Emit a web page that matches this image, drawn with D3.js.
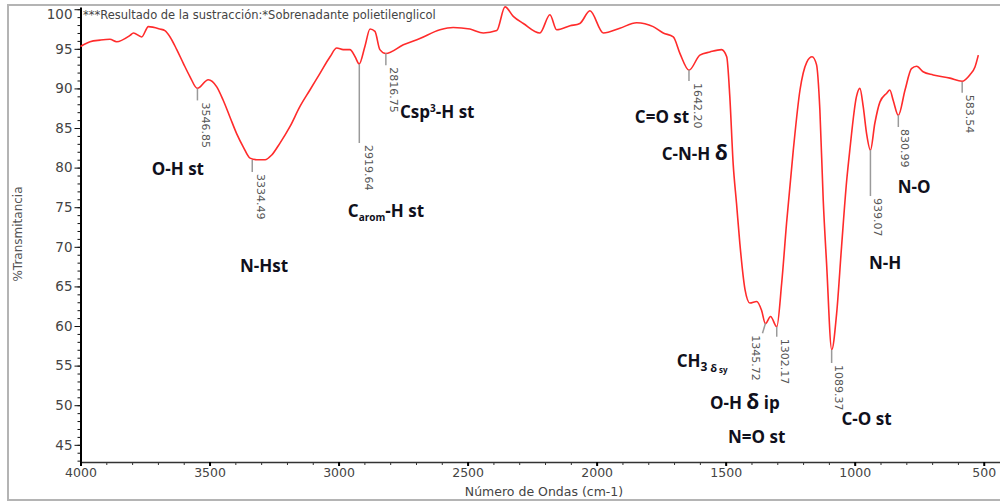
<!DOCTYPE html>
<html>
<head>
<meta charset="utf-8">
<script src="https://cdn.jsdelivr.net/npm/d3@7"></script>
<style>
  body { margin: 0; background: #fff; }
  svg { display: block; }
</style>
</head>
<body>
<div id="vis"></div>
<script>
// spectrum (wavenumber in cm-1, % transmittance)
var wavenumbers = [4000,3963,3924,3886,3860,3808,3795,3763,3737,3692,
  3673,3653,3627,3602,3576,3547,3505,3472,3447,3421,
  3395,3369,3343,3317,3285,3259,3227,3188,3150,3111,
  3072,3033,3007,2982,2956,2936,2920,2898,2878,2859,
  2840,2817,2749,2685,2607,2556,2491,2439,2387,2355,
  2323,2284,2220,2181,2155,2103,2065,2026,1974,1910,
  1845,1781,1742,1703,1677,1642,1600,1561,1516,1496,
  1484,1471,1458,1445,1425,1406,1380,1361,1346,1326,
  1302,1283,1264,1238,1212,1186,1165,1148,1135,1122,
  1109,1089,1070,1051,1031,1019,993,980,967,954,
  939,922,902,876,864,851,831,805,780,760,
  735,696,631,584,554,534,521];
var transmittance = [95.3,95.9,96.1,96.2,95.9,96.7,97.0,96.5,97.8,97.5,
  97.3,96.5,94.9,93.2,91.5,90.0,91.1,90.2,88.5,86.4,
  84.3,82.6,81.2,81.0,81.0,81.6,83.1,85.2,87.7,89.8,
  91.9,94.0,95.1,94.9,94.9,94.0,93.1,95.3,97.5,97.2,
  94.9,94.4,95.5,96.3,97.4,97.7,97.5,97.0,97.3,100.3,
  99.1,98.2,97.0,99.3,97.4,97.9,98.2,99.8,97.0,97.6,
  98.3,97.8,97.0,96.5,94.4,92.3,94.2,94.6,94.9,94.0,
  89.0,80.5,75.5,70.4,64.6,62.9,63.1,62.0,60.3,61.2,
  59.9,65.4,73.0,82.2,89.8,93.3,94.0,93.0,87.3,75.9,
  67.9,57.0,61.6,70.0,78.4,82.2,89.0,90.0,87.7,84.3,
  82.2,85.6,88.3,89.4,89.8,88.5,86.6,89.8,92.5,92.8,
  92.1,91.7,91.3,90.9,91.7,92.7,94.2];

// peaks picked by the software
var peakWn = [3546.85, 3334.49, 2919.64, 2816.75, 1642.20, 1345.72, 1302.17, 1089.37, 939.07, 830.99, 583.54];
var peakT = [90.0, 80.96, 93.08, 94.43, 92.32, 60.34, 59.91, 56.97, 82.22, 86.64, 90.85];

var xTicks = [4000, 3500, 3000, 2500, 2000, 1500, 1000, 500];
var yTicks = [45, 50, 55, 60, 65, 70, 75, 80, 85, 90, 95, 100];

var title = '***Resultado de la sustracción:*Sobrenadante polietilenglicol';
var xTitle = 'Número de Ondas (cm-1)';
var yTitle = '%Transmitancia';

// band assignments, anchored in data units (left edge, middle)
var bandLabels = [
  { wn: 3724, t: 79.07, parts: [['O-H st']] },
  { wn: 3382, t: 66.86, parts: [['N-Hst']] },
  { wn: 2964, t: 73.8, parts: [['C'], ['arom', 'sub'], ['-H st']] },
  { wn: 2762, t: 86.22, parts: [['Csp'], ['3', 'sup'], ['-H st']] },
  { wn: 1852, t: 85.6, parts: [['C=O st']] },
  { wn: 1748, t: 80.96, parts: [['C-N-H '], ['δ', 'big']] },
  { wn: 1690, t: 54.86, parts: [['CH'], ['3', 'sub3'], [' δ', 'tiny'], [' sy', 'tinier']] },
  { wn: 1561, t: 49.48, parts: [['O-H '], ['δ', 'big'], [' ip']] },
  { wn: 1491, t: 45.2, parts: [['N=O st']] },
  { wn: 1051, t: 47.5, parts: [['C-O st']] },
  { wn: 945, t: 67.16, parts: [['N-H']] },
  { wn: 833, t: 76.83, parts: [['N-O']] }
];

// layout of the peak markers (leader length and text offset, px)
var peakLen = [12, 12, 79, 12, 11, 10, 10, 13, 46, 12, 11];
var peakDx = [8, 9, 10, 8, 9, -10, 8, 7, 7, 7, 8];

var width = 1000, height = 502;
var axisFont = 'DejaVu Sans, Verdana, sans-serif';
var bandFont = 'Open Sans, Lato, sans-serif';

var partStyle = {
  '': { size: 17, shift: 0 },
  sub: { size: 10, shift: 4 },
  sup: { size: 10, shift: -6 },
  big: { size: 21, shift: 0 },
  sub3: { size: 12, shift: 4 },
  tiny: { size: 11, shift: 5 },
  tinier: { size: 8, shift: 6 }
};

var x = d3.scaleLinear().domain([4000, 437]).range([80.5, 1000]);
var y = d3.scaleLinear().domain([42.83, 100.28]).range([462, 7]);

var svg = d3.select('#vis').append('svg')
  .attr('width', width)
  .attr('height', height);

// outer frame
svg.append('rect')
  .attr('x', 8).attr('y', 5)
  .attr('width', 1000).attr('height', 495)
  .attr('fill', '#fff')
  .attr('stroke', '#b4b4b4')
  .attr('stroke-width', 2);

// title inside the plot
svg.append('text')
  .attr('x', 83).attr('y', 19)
  .attr('font-family', axisFont)
  .attr('font-size', 11.5)
  .attr('fill', '#444')
  .text(title);

// minor ticks first, then the main axes over them
svg.append('g')
  .attr('transform', 'translate(' + x.range()[0] + ',0)')
  .call(d3.axisLeft(y).tickValues(d3.range(43, 101)).tickSize(3).tickFormat(''))
  .call(function (g) { g.select('.domain').remove(); })
  .selectAll('line').attr('stroke', '#111');

var yAxis = svg.append('g')
  .attr('transform', 'translate(' + x.range()[0] + ',0)')
  .call(d3.axisLeft(y).tickValues(yTicks).tickSize(6).tickSizeOuter(0).tickPadding(2));
yAxis.select('.domain').attr('stroke', '#000').attr('stroke-width', 2);
yAxis.selectAll('.tick line').attr('stroke', '#111');
yAxis.selectAll('.tick text')
  .attr('font-family', axisFont)
  .attr('font-size', 13.5)
  .attr('fill', '#444')
  .attr('dy', function (d) { return d == 100 ? '0.72em' : '0.32em'; });

svg.append('g')
  .attr('transform', 'translate(0,' + y.range()[0] + ')')
  .call(d3.axisBottom(x).tickValues(d3.range(600, 4000, 100)).tickSize(3).tickFormat(''))
  .call(function (g) { g.select('.domain').remove(); })
  .selectAll('line').attr('stroke', '#333');

var xAxis = svg.append('g')
  .attr('transform', 'translate(0,' + y.range()[0] + ')')
  .call(d3.axisBottom(x).tickValues(xTicks).tickSize(4).tickSizeOuter(0).tickPadding(2)
    .tickFormat(d3.format('d')));
xAxis.select('.domain').attr('stroke', '#333').attr('stroke-width', 1.5);
xAxis.selectAll('.tick line').attr('stroke', '#000').attr('stroke-width', 2);
xAxis.selectAll('.tick text')
  .attr('font-family', axisFont)
  .attr('font-size', 12.5)
  .attr('fill', '#444');

// axis titles
svg.append('text')
  .attr('transform', 'translate(22,234) rotate(-90)')
  .attr('text-anchor', 'middle')
  .attr('font-family', axisFont)
  .attr('font-size', 12)
  .attr('fill', '#555')
  .text(yTitle);

svg.append('text')
  .attr('x', 544).attr('y', 496)
  .attr('text-anchor', 'middle')
  .attr('font-family', axisFont)
  .attr('font-size', 12.5)
  .attr('fill', '#444')
  .text(xTitle);

// the spectrum
var spectrum = wavenumbers.map(function (w, i) { return { wn: w, t: transmittance[i] }; });

var line = d3.line()
  .x(function (d) { return x(d.wn); })
  .y(function (d) { return y(d.t); })
  .curve(d3.curveMonotoneX);

svg.append('path')
  .datum(spectrum)
  .attr('fill', 'none')
  .attr('stroke', '#ff2b2b')
  .attr('stroke-width', 1.6)
  .attr('stroke-linejoin', 'round')
  .attr('d', line);

// peak markers with rotated wavenumbers
var fmt = d3.format('.2f');
var peaks = svg.append('g');
peakWn.forEach(function (w, i) {
  var px = x(w), py = y(peakT[i]);
  var slant = peakDx[i] < 0 ? -3 : 0;
  peaks.append('line')
    .attr('x1', px).attr('y1', py)
    .attr('x2', px + slant).attr('y2', py + peakLen[i])
    .attr('stroke', '#9a9a9a')
    .attr('stroke-width', 1.5);
  peaks.append('text')
    .attr('transform', 'translate(' + (px + peakDx[i]) + ',' + (py + peakLen[i] + 2) + ') rotate(90)')
    .attr('dy', '0.35em')
    .attr('font-family', axisFont)
    .attr('font-size', 11)
    .attr('fill', '#555')
    .text(fmt(w));
});

// band assignments
var bands = svg.append('g');
bandLabels.forEach(function (b) {
  var txt = bands.append('text')
    .attr('x', x(b.wn))
    .attr('y', y(b.t))
    .attr('dy', '0.35em')
    .attr('font-family', bandFont)
    .attr('font-weight', 'bold')
    .attr('font-size', 17)
    .attr('fill', '#10101c');
  var shift = 0;
  b.parts.forEach(function (p) {
    var st = partStyle[p[1] || ''];
    txt.append('tspan')
      .attr('font-size', st.size)
      .attr('dy', st.shift - shift)
      .text(p[0]);
    shift = st.shift;
  });
});
</script>
</body>
</html>
